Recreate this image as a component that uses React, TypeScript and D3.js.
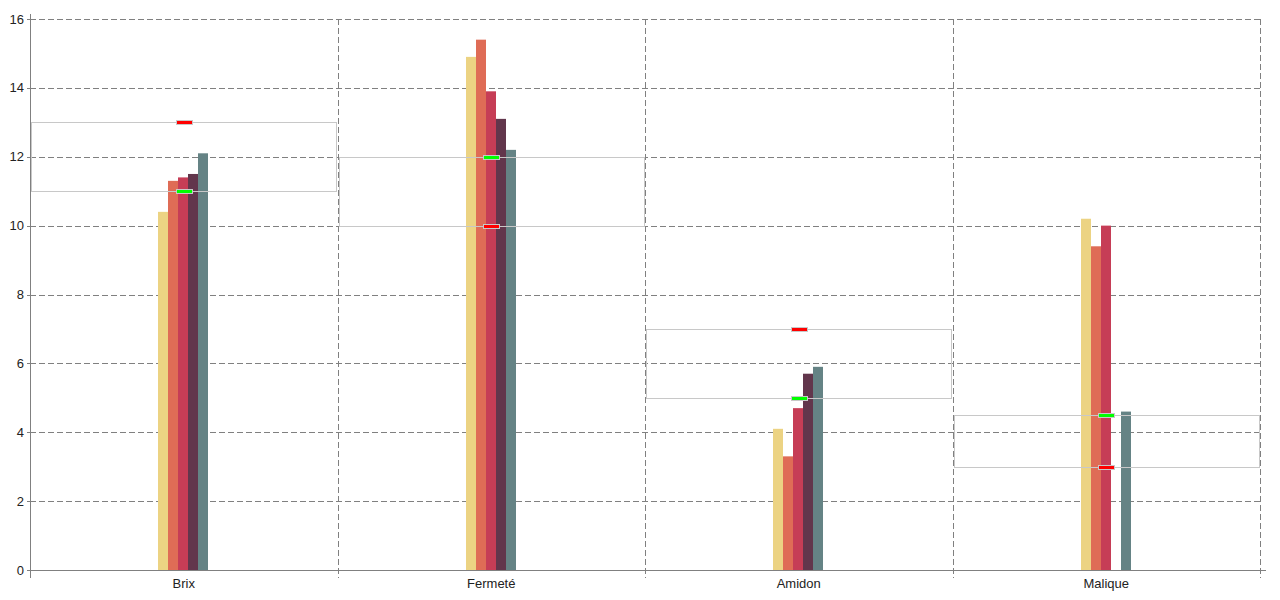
import React from "react";
import * as d3 from "d3";

const categories = ["Brix", "Fermeté", "Amidon", "Malique"];
const seriesNames = ["S1", "S2", "S3", "S4", "S5"];
const seriesColors = ["#ecd383", "#df6c56", "#c63d56", "#62364c", "#658385"];
const seriesValues: (number | null)[][] = [
  [10.4, 14.9, 4.1, 10.2],
  [11.3, 15.4, 3.3, 9.4],
  [11.4, 13.9, 4.7, 10.0],
  [11.5, 13.1, 5.7, null],
  [12.1, 12.2, 5.9, 4.6],
];
const redMarker = [13, 10, 7, 3];
const greenMarker = [11, 12, 5, 4.5];
const yTicks = [0, 2, 4, 6, 8, 10, 12, 14, 16];

const W = 1280, H = 600;
const left = 30, right = 1260, top = 19, bottom = 570;

export default function App() {
  const x = d3.scaleBand<string>().domain(categories).range([left, right]).padding(0);
  const y = d3.scaleLinear().domain([0, 16]).range([bottom, top]);
  const inner = d3.scaleBand<string>().domain(seriesNames).range([-25, 25]).padding(0);
  const bounds = categories.map((c) => x(c)!).concat([right]);
  const grid = "#808080";
  return (
    <svg width={W} height={H} style={{ position: "absolute", left: 0, top: 0, background: "#fff" }}
      fontFamily="Liberation Sans, Arial, sans-serif">
      {yTicks.filter((t) => t > 0).map((t) => (
        <line key={"h" + t} x1={left} x2={right} y1={Math.round(y(t)) + 0.5} y2={Math.round(y(t)) + 0.5}
          stroke={grid} strokeDasharray="6,3" />
      ))}
      {bounds.slice(1).map((b, i) => (
        <line key={"v" + i} x1={Math.round(b) + 0.5} x2={Math.round(b) + 0.5} y1={top} y2={bottom + 8}
          stroke={grid} strokeDasharray="6,3" />
      ))}
      {seriesValues.map((vals, si) =>
        vals.map((v, ci) =>
          v == null ? null : (
            <rect key={si + "-" + ci}
              x={Math.floor(x(categories[ci])! + x.bandwidth() / 2 + inner(seriesNames[si])!)}
              y={y(v)} width={inner.bandwidth()} height={bottom - y(v)} fill={seriesColors[si]} />
          )
        )
      )}
      {categories.map((c, ci) => {
        const hi = Math.max(redMarker[ci], greenMarker[ci]);
        const lo = Math.min(redMarker[ci], greenMarker[ci]);
        return (
          <rect key={"band" + c} x={Math.round(x(c)!) + 1.5} y={Math.round(y(hi)) + 0.5}
            width={Math.round(x.bandwidth()) - 3} height={Math.round(y(lo)) - Math.round(y(hi))}
            fill="none" stroke="#c8c8c8" strokeWidth={1} />
        );
      })}
      {categories.map((c, ci) => {
        const cx = Math.round(x(c)! + x.bandwidth() / 2);
        return (
          <g key={"m" + c}>
            <rect x={cx - 7.5} y={Math.round(y(redMarker[ci])) - 1.5} width={16} height={4}
              fill="#ff0000" stroke="#c8c8c8" strokeWidth={1} />
            <rect x={cx - 7.5} y={Math.round(y(greenMarker[ci])) - 1.5} width={16} height={4}
              fill="#00ff00" stroke="#c8c8c8" strokeWidth={1} />
          </g>
        );
      })}
      <line x1={left + 0.5} x2={left + 0.5} y1={14} y2={bottom + 8} stroke={grid} />
      <line x1={left - 2} x2={right + 6} y1={bottom + 0.5} y2={bottom + 0.5} stroke={grid} />
      {yTicks.map((t) => (
        <g key={"yt" + t}>
          <line x1={left - 3} x2={left} y1={Math.round(y(t)) + 0.5} y2={Math.round(y(t)) + 0.5} stroke={grid} />
          <text x={left - 6} y={y(t)} dy="0.35em" textAnchor="end" fontSize={13} fill="#222">{t}</text>
        </g>
      ))}
      {categories.map((c) => (
        <text key={"xl" + c} x={x(c)! + x.bandwidth() / 2} y={588} textAnchor="middle" fontSize={13} fill="#222">{c}</text>
      ))}
    </svg>
  );
}
